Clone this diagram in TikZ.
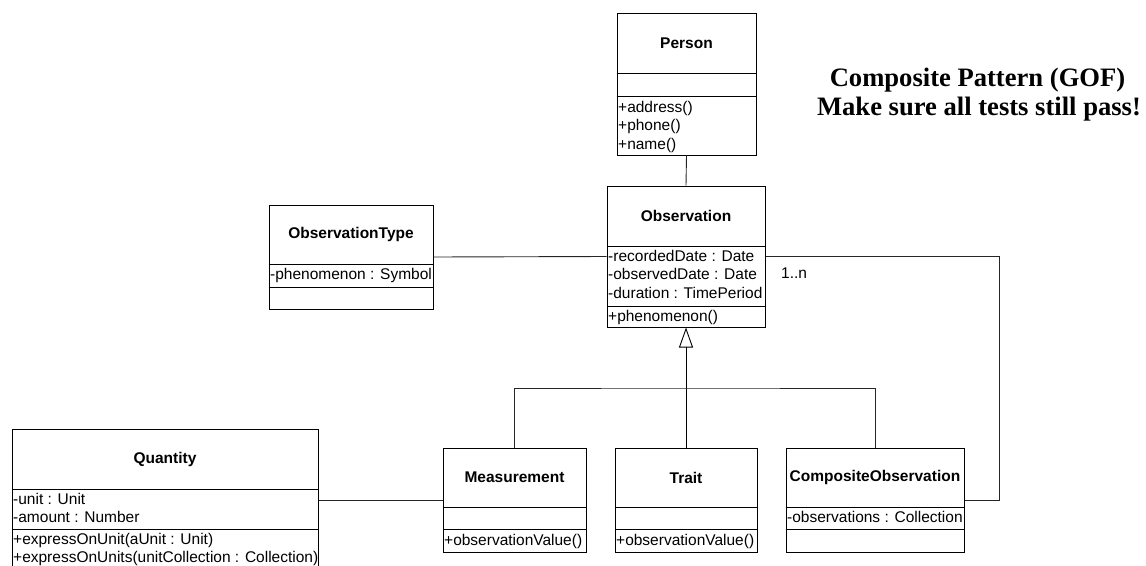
\documentclass[tikz,border=0pt]{standalone}
\usepackage{fontspec}
\usetikzlibrary{arrows.meta}
\newfontfamily\umlsans{Liberation Sans}
\newfontfamily\titleserif{Liberation Serif}

\tikzset{
  classbox/.style={draw=black, line width=1pt, inner sep=0pt, rectangle},
  member/.style={anchor=base west, inner sep=0pt, font=\umlsans\fontsize{15.5}{18.5}\selectfont},
  classname/.style={inner sep=0pt, font=\umlsans\bfseries\fontsize{15.5}{18.5}\selectfont},
  compline/.style={line width=1pt},
  link/.style={line width=0.9pt, draw=black!85},
  heading/.style={anchor=base, inner sep=0pt, font=\titleserif\bfseries\fontsize{26.6}{29}\selectfont},
}

% horizontal separator between compartments of a class box
\newcommand\compsep[2]{\draw[compline] (#1.west |- 0,#2) -- (#1.east |- 0,#2);}
% member lines (attributes / operations) of a compartment
\newcommand\memberlines[4]{%
  \foreach \t [count=\i from 0] in {#4}
    \node[member] (#1\i) at (#2, {#3+18.5*\i}) {\t};}

\begin{document}
\begin{tikzpicture}[x=1pt, y=-1pt]
\useasboundingbox (0,0) rectangle (1146,565);
\clip (0,0) rectangle (1146,565);

% ---- class boxes ----
\node[classbox, minimum width=139pt, minimum height=142pt] (person) at (686.5,84) {};
\node[classname] (person-name) at (686.5,43) {Person};
\compsep{person}{73}
\compsep{person}{96}
\memberlines{person-op}{618}{112}{+address(),+phone(),+name()}

\node[classbox, minimum width=158pt, minimum height=141pt] (obs) at (686,256.5) {};
\node[classname] (obs-name) at (686,216) {Observation};
\compsep{obs}{246}
\compsep{obs}{306}
\memberlines{obs-attr}{608}{261}{-recordedDate : Date,-observedDate : Date,-duration : TimePeriod}
\memberlines{obs-op}{608}{321}{+phenomenon()}

\node[classbox, minimum width=164pt, minimum height=104pt] (otype) at (351,257) {};
\node[classname] (otype-name) at (351,234.5) {ObservationType};
\compsep{otype}{264}
\compsep{otype}{287}
\memberlines{otype-attr}{270}{279.5}{-phenomenon : Symbol}

\node[classbox, minimum width=306pt, minimum height=142pt] (qty) at (165,500) {};
\node[classname] (qty-name) at (165,459) {Quantity};
\compsep{qty}{489}
\compsep{qty}{529}
\memberlines{qty-attr}{13}{504}{-unit : Unit,-amount : Number}
\memberlines{qty-op}{13}{544}{+expressOnUnit(aUnit : Unit),+expressOnUnits(unitCollection : Collection)}

\node[classbox, minimum width=143pt, minimum height=104pt] (meas) at (514.5,500) {};
\node[classname] (meas-name) at (514.5,477.5) {Measurement};
\compsep{meas}{507}
\compsep{meas}{529}
\memberlines{meas-op}{444}{545}{+observationValue()}

\node[classbox, minimum width=142pt, minimum height=104pt] (trait) at (686,500) {};
\node[classname] (trait-name) at (686,477.5) {Trait};
\compsep{trait}{507}
\compsep{trait}{529}
\memberlines{trait-op}{616}{545}{+observationValue()}

\node[classbox, minimum width=178pt, minimum height=104pt] (comp) at (875,500) {};
\node[classname] (comp-name) at (875,477.5) {CompositeObservation};
\compsep{comp}{507}
\compsep{comp}{529}
\memberlines{comp-attr}{787}{522.5}{-observations : Collection}

% ---- connectors ----
\draw[link] (person.south) -- (obs.north);
\draw[link] (otype.east) -- (obs.west);
\draw[link] (meas.west) -- (meas.west -| qty.east);

% generalization: subclasses -> Observation
\coordinate (bus) at (686,388);
\draw[link, draw=black, -{Triangle[open, width=14pt, length=20pt, line width=0.9pt]}] (trait.north) -- (obs.south);
\draw[link] (meas.north) |- (bus) -| (comp.north);

% composite aggregation loop
\coordinate (loop) at (999,256.5);
\draw[link] (obs.east) -- (loop) |- (comp.east);
\node[member] (mult) at (781,278) {1..n};

% ---- heading ----
\node[heading] (title1) at (977.5,86) {Composite Pattern (GOF)};
\node[heading] (title2) at (979,115) {Make sure all tests still pass!};
\end{tikzpicture}
\end{document}
